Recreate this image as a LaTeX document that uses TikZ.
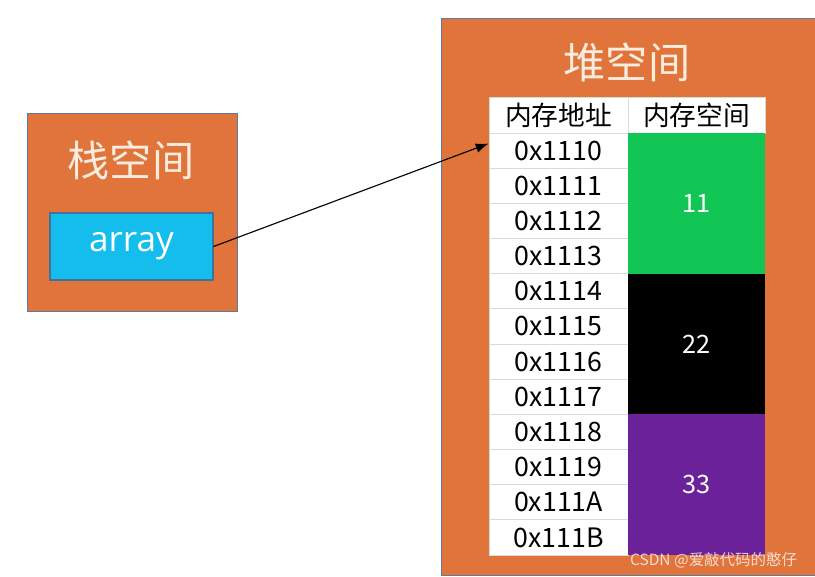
\documentclass[tikz,border=0pt]{standalone}
\usepackage{fontspec}
\setmainfont{Noto Sans CJK SC}
\newfontfamily\cjk{Noto Sans CJK SC}
\newfontfamily\latinsans{Open Sans}
\usetikzlibrary{positioning}
\usetikzlibrary{arrows.meta}

\definecolor{spaceorange}{HTML}{E0743A}
\definecolor{spaceborder}{HTML}{5A7CA3}
\definecolor{arraycyan}{HTML}{14BDEB}
\definecolor{arrayborder}{HTML}{41719C}
\definecolor{titlecream}{HTML}{F8ECDF}
\definecolor{cellgreen}{HTML}{12C655}
\definecolor{cellpurple}{HTML}{6B2199}
\definecolor{gridgray}{HTML}{D9D9D9}

\tikzset{
  space/.style={draw=spaceborder, fill=spaceorange, line width=0.6pt, inner sep=0pt},
  spacetitle/.style={text=titlecream, font=\cjk\fontsize{30}{30}\selectfont},
  addrcell/.style={draw=gridgray, fill=white, line width=0.6pt, inner sep=0pt,
    minimum width=3.475cm, minimum height=0.879cm, font=\cjk\fontsize{19}{19}\selectfont},
  valcell/.style={fill=#1, inner sep=0pt, minimum width=3.425cm, minimum height=3.517cm,
    text=white, font=\cjk\fontsize{18}{18}\selectfont},
}

\begin{document}
\begin{tikzpicture}[x=0.025cm, y=-0.025cm]
  \useasboundingbox (0,0) rectangle (815,577);
  \fill[white] (0,0) rectangle (815,577);

  % stack space
  \node[space, minimum width=5.25cm, minimum height=4.95cm] (stack) at (132,212) {};
  \node[spacetitle] (stacktitle) at (131,160) {栈空间};
  \node[draw=arrayborder, fill=arraycyan, line width=0.8pt, inner sep=0pt,
        minimum width=4.075cm, minimum height=1.675cm, text=white,
        font=\latinsans\fontsize{25}{25}\selectfont] (array) at (131.5,246.5) {array};

  % heap space
  \node[space, minimum width=9.5cm, minimum height=13.925cm] (heap) at (631,296.5) {};
  \node[spacetitle] (heaptitle) at (627,62) {堆空间};

  % table header
  \node[addrcell] (head1) at (558.5,115.5) {内存地址};
  \node[addrcell, minimum width=3.425cm] (head2) at (696.5,115.5) {内存空间};

  % addresses
  \foreach \a [count=\i] in {0,1,2,3,4,5,6,7,8,9,A,B}
    \node[addrcell] (addr\i) at (558.5,{133+35.17*(\i-0.5)}) {0x111\a};

  % values
  \node[valcell=cellgreen] (val1) at (696.5,203.3) {11};
  \node[valcell=black] (val2) at (696.5,344) {22};
  \node[valcell=cellpurple] (val3) at (696.5,484.7) {33};

  % reference
  \draw[-{Latex[length=3.2mm, width=2.4mm]}, line width=0.8pt]
    (array.east) to ([yshift=5pt]addr1.west);

  \node[text=white, opacity=0.75, font=\cjk\fontsize{11}{11}\selectfont,
        anchor=east] (mark) at (802,560) {CSDN @爱敲代码的憨仔};
\end{tikzpicture}
\end{document}
